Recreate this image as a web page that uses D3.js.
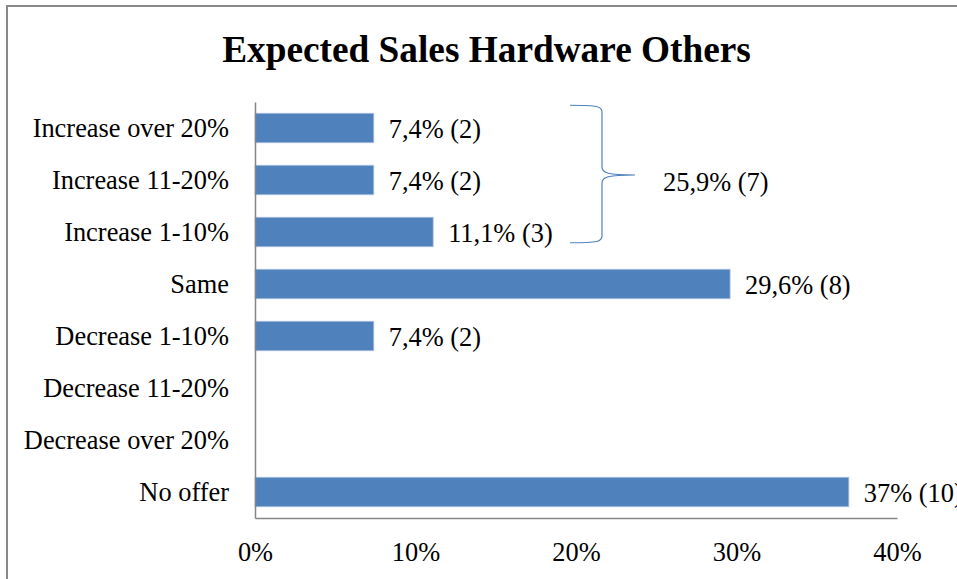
<!DOCTYPE html>
<html>
<head>
<meta charset="utf-8">
<script src="https://cdn.jsdelivr.net/npm/d3@7"></script>
<style>
  html, body { margin: 0; padding: 0; background: #fff; }
  svg { display: block; }
  text { font-family: "Liberation Serif", "Times New Roman", serif; fill: #000; }
</style>
</head>
<body>
<svg id="chart" width="957" height="579"></svg>
<script>
// Survey answers: expected sales development, hardware (others)
const categories = [
  "Increase over 20%", "Increase 11-20%", "Increase 1-10%", "Same",
  "Decrease 1-10%", "Decrease 11-20%", "Decrease over 20%", "No offer"
];
const percents = [7.4, 7.4, 11.1, 29.6, 7.4, 0, 0, 37];
const counts = [2, 2, 3, 8, 2, 0, 0, 10];
const xTicks = [0, 10, 20, 30, 40];
// Rows grouped together by the brace annotation
const groupRows = ["Increase over 20%", "Increase 11-20%", "Increase 1-10%"];
const groupPercent = 25.9;
const groupCount = 7;

const svg = d3.select("#chart");
const fmt = v => String(v).replace(".", ",");
const fs = 26.4;

// Outer frame of the chart area
svg.append("rect")
  .attr("x", 7).attr("y", 6)
  .attr("width", 1000).attr("height", 1000)
  .attr("fill", "#fff")
  .attr("stroke", "#898989")
  .attr("stroke-width", 2);

svg.append("text")
  .attr("x", 486.5).attr("y", 62)
  .attr("text-anchor", "middle")
  .attr("font-size", 37.3)
  .attr("font-weight", "bold")
  .text("Expected Sales Hardware Others");

const x = d3.scaleLinear().domain([0, 40]).range([255, 897]);
const y = d3.scaleBand().domain(categories).range([102, 518])
  .paddingInner(0.433).paddingOuter(0.2165);

const data = categories.map((c, i) => ({ c, p: percents[i], n: counts[i] }));

// Bars
svg.append("g").selectAll("rect")
  .data(data.filter(d => d.p > 0))
  .join("rect")
  .attr("x", x(0))
  .attr("y", d => y(d.c))
  .attr("width", d => x(d.p) - x(0))
  .attr("height", y.bandwidth())
  .attr("fill", "#4F81BD")
  .attr("stroke", "#A9C1E0")
  .attr("stroke-width", 0.8);

// Value labels
svg.append("g").selectAll("text")
  .data(data.filter(d => d.p > 0))
  .join("text")
  .attr("x", d => x(d.p) + 15)
  .attr("y", d => y(d.c) + y.bandwidth() / 2)
  .attr("dy", "0.36em")
  .attr("font-size", fs)
  .text(d => `${fmt(d.p)}% (${d.n})`);

// Category axis
const yAxis = svg.append("g")
  .attr("transform", `translate(${x(0)},0)`)
  .call(d3.axisLeft(y).tickSize(0).tickPadding(26));
yAxis.select(".domain").attr("stroke", "#868686").attr("stroke-width", 1.5);
yAxis.selectAll("text")
  .attr("font-size", fs)
  .attr("font-family", "Liberation Serif, serif")
  .attr("fill", "#000")
  .attr("dy", "0.34em");

// Value axis
const xAxis = svg.append("g")
  .attr("transform", `translate(0,518)`)
  .call(d3.axisBottom(x).tickValues(xTicks).tickFormat(d => d + "%").tickSize(0).tickPadding(24));
xAxis.select(".domain").attr("stroke", "#868686").attr("stroke-width", 1.5);
xAxis.selectAll("text")
  .attr("font-size", fs)
  .attr("font-family", "Liberation Serif, serif")
  .attr("fill", "#000")
  .attr("dy", "0.71em");

// Brace spanning the increase rows
const braceTop = y(groupRows[0]) - 8;
const braceBot = y(groupRows[groupRows.length - 1]) + y.bandwidth() - 4;
const braceMid = (braceTop + braceBot) / 2 + 1;
const bx0 = 570, bx = 602, tip = 635;
const brace = d3.path();
brace.moveTo(bx0, braceTop);
brace.bezierCurveTo(bx - 4, braceTop, bx, braceTop + 1, bx, braceTop + 7);
brace.lineTo(bx, braceMid - 8);
brace.bezierCurveTo(bx, braceMid - 2, bx + 6, braceMid, tip, braceMid);
brace.bezierCurveTo(bx + 6, braceMid, bx, braceMid + 2, bx, braceMid + 8);
brace.lineTo(bx, braceBot - 7);
brace.bezierCurveTo(bx, braceBot - 1, bx - 4, braceBot, bx0, braceBot);
svg.append("path")
  .attr("d", brace.toString())
  .attr("fill", "none")
  .attr("stroke", "#4F81BD")
  .attr("stroke-width", 1.2);

svg.append("text")
  .attr("x", 663).attr("y", braceMid + 8)
  .attr("dy", "0.32em")
  .attr("font-size", fs)
  .text(`${fmt(groupPercent)}% (${groupCount})`);
</script>
</body>
</html>
